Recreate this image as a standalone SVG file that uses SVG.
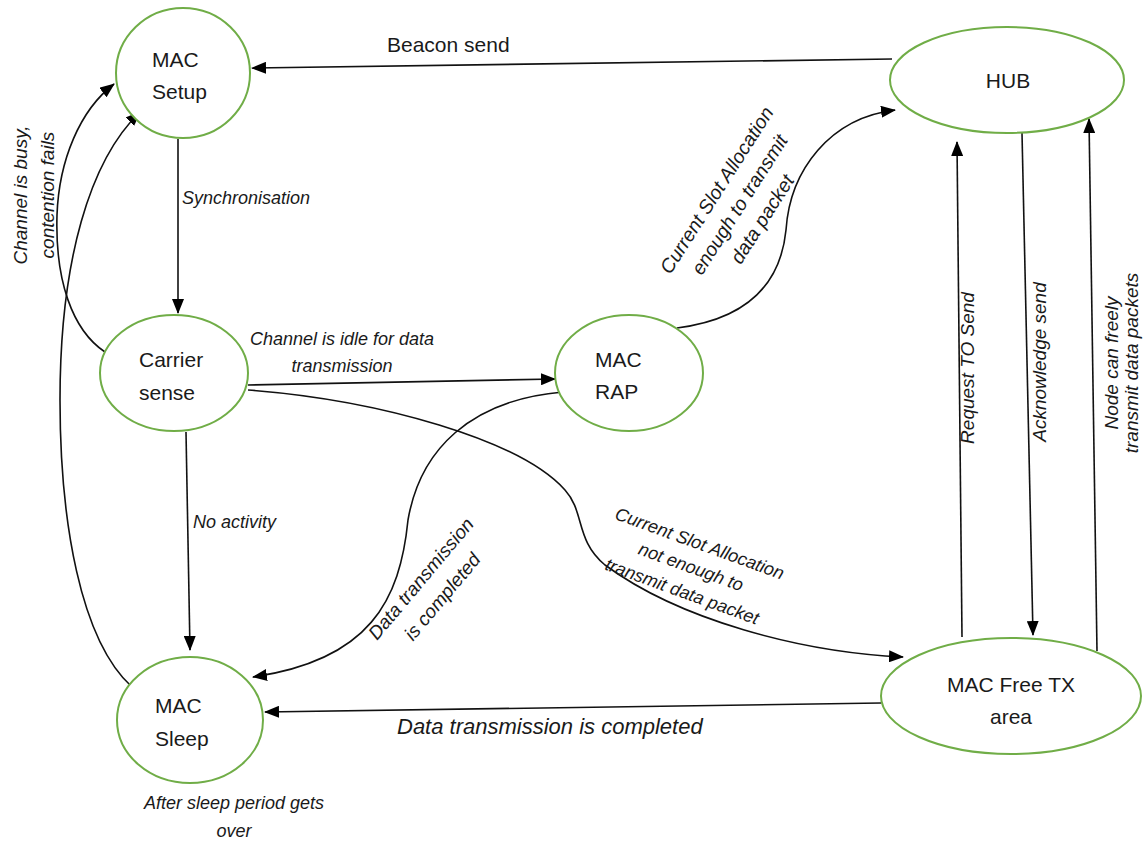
<svg xmlns="http://www.w3.org/2000/svg" width="1144" height="841" viewBox="0 0 1144 841">
<style>
.node{fill:#fff;stroke:#70ad47;stroke-width:2}
.nt{font-family:"Liberation Sans",Arial,sans-serif;font-size:21px;fill:#1a1a1a}
.lb{font-family:"Liberation Sans",Arial,sans-serif;font-style:italic;font-size:18px;fill:#1a1a1a}
.rl{font-size:19px}
.edge{fill:none;stroke:#111;stroke-width:1.6}
.arr{marker-end:url(#ah)}
</style>
<defs>
<marker id="ah" viewBox="0 0 15 12" refX="14" refY="6" markerWidth="15" markerHeight="12" markerUnits="userSpaceOnUse" orient="auto">
<path d="M0,0 L15,6 L0,12 Z" fill="#000"/>
</marker>
</defs>
<rect width="1144" height="841" fill="#fff"/>
<g id="connectors">
<path class="edge arr" d="M 892 59 L 252 68"/>
<path class="edge arr" d="M 178 139 L 178 313"/>
<path class="edge arr" d="M 248 385 L 555 379"/>
<path class="edge arr" d="M 186 432 L 190 650"/>
<path class="edge arr" d="M 105 352 C 72 330, 55 280, 57 215 C 59 160, 80 110, 114 84"/>
<path class="edge arr" d="M 132 687 C 80 640, 60 520, 60 400 C 60 260, 90 160, 140 112"/>
<path class="edge arr" d="M 677 328 C 740 320, 780 290, 786 230 C 790 170, 830 118, 895 110"/>
<path class="edge arr" d="M 563 392 C 470 400, 420 450, 408 520 C 400 600, 370 660, 253 677"/>
<path class="edge arr" d="M 248 390 C 380 400, 520 440, 565 490 C 585 512, 575 540, 605 565 C 680 620, 800 652, 903 657"/>
<path class="edge arr" d="M 881 703 L 265 712"/>
<path class="edge arr" d="M 962 637 L 957 142"/>
<path class="edge arr" d="M 1022 133 L 1033 635"/>
<path class="edge arr" d="M 1097 651 L 1089 119"/>
</g>
<g id="edge-labels">
<text class="lb" x="387" y="52" style="font-style:normal;font-size:21px">Beacon send</text>
<text class="lb" x="182" y="204">Synchronisation</text>
<text class="lb" x="342" y="345" text-anchor="middle">Channel is idle for data</text>
<text class="lb" x="342" y="372" text-anchor="middle">transmission</text>
<text class="lb" x="193" y="528">No activity</text>
<text class="lb" x="397" y="734" style="font-size:22px">Data transmission is completed</text>
<text class="lb" x="234" y="809" text-anchor="middle">After sleep period gets</text>
<text class="lb" x="234" y="837" text-anchor="middle">over</text>
<g transform="translate(40,195) rotate(-90)">
<text class="lb rl" x="0" y="-13" text-anchor="middle">Channel is busy,</text>
<text class="lb rl" x="0" y="14" text-anchor="middle">contention fails</text>
</g>
<g transform="translate(740,205) rotate(-57.5)">
<text class="lb" style="font-size:19.5px" x="0" y="-21" text-anchor="middle">Current Slot Allocation</text>
<text class="lb" style="font-size:19.5px" x="0" y="6" text-anchor="middle">enough to transmit</text>
<text class="lb" style="font-size:19.5px" x="0" y="33" text-anchor="middle">data packet</text>
</g>
<g transform="translate(432,588) rotate(-50)">
<text class="lb rl" x="0" y="-8" text-anchor="middle">Data transmission</text>
<text class="lb rl" x="0" y="20" text-anchor="middle">is completed</text>
</g>
<g transform="translate(691,567) rotate(20)">
<text class="lb" x="0" y="-19" text-anchor="middle">Current Slot Allocation</text>
<text class="lb" x="0" y="6" text-anchor="middle">not enough to</text>
<text class="lb" x="0" y="32" text-anchor="middle">transmit data packet</text>
</g>
<text class="lb rl" transform="translate(974,368) rotate(-90)" text-anchor="middle">Request TO Send</text>
<text class="lb rl" transform="translate(1046,362) rotate(-90)" text-anchor="middle">Acknowledge send</text>
<g transform="translate(1118,363) rotate(-90)">
<text class="lb rl" x="0" y="0" text-anchor="middle">Node can freely</text>
<text class="lb rl" x="0" y="20" text-anchor="middle">transmit data packets</text>
</g>
</g>
<g id="mac-setup">
<ellipse class="node" cx="183" cy="73" rx="67" ry="65"/>
<text class="nt" x="152" y="67">MAC</text>
<text class="nt" x="152" y="99">Setup</text>
</g>
<g id="hub">
<ellipse class="node" cx="1007" cy="80" rx="117" ry="53"/>
<text class="nt" x="1008" y="88" text-anchor="middle">HUB</text>
</g>
<g id="carrier-sense">
<ellipse class="node" cx="174" cy="373" rx="74" ry="58"/>
<text class="nt" x="139" y="367">Carrier</text>
<text class="nt" x="139" y="400">sense</text>
</g>
<g id="mac-rap">
<ellipse class="node" cx="629" cy="373" rx="74" ry="58"/>
<text class="nt" x="595" y="367">MAC</text>
<text class="nt" x="595" y="399">RAP</text>
</g>
<g id="mac-sleep">
<ellipse class="node" cx="190" cy="720" rx="73" ry="63"/>
<text class="nt" x="155" y="713">MAC</text>
<text class="nt" x="155" y="746">Sleep</text>
</g>
<g id="mac-free-tx">
<ellipse class="node" cx="1011" cy="696" rx="130" ry="58"/>
<text class="nt" x="1011" y="692" text-anchor="middle">MAC Free TX</text>
<text class="nt" x="1011" y="724" text-anchor="middle">area</text>
</g>
</svg>
